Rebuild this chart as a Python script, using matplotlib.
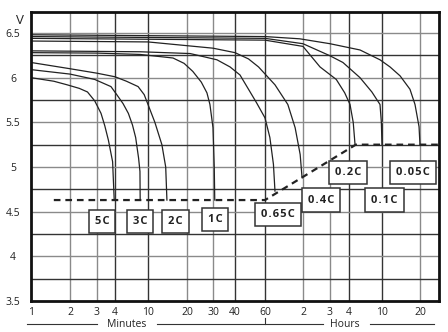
import numpy as np
import matplotlib.pyplot as plt
from matplotlib.lines import Line2D

plt.rcParams['font.family'] = ['Open Sans', 'DejaVu Sans']

# x axis of the sheet is a stretched log scale: ticks sit at fixed spacing
tick_min = [1, 2, 3, 4, 10, 20, 30, 40, 60, 120, 180, 240, 600, 1200]
tick_lab = ['1', '2', '3', '4', '10', '20', '30', '40', '60', '2', '3', '4', '10', '20']
anchor_t = tick_min + [1800]
anchor_p = [31, 70, 97, 115, 148, 187, 213, 235, 265, 303, 330, 349, 382, 420, 447]
log_t = np.log10(anchor_t)

def fwd(x):
    x = np.clip(np.asarray(x, dtype=float), 0.5, 1e5)
    return np.interp(np.log10(x), log_t, anchor_p)

def inv(p):
    return 10 ** np.interp(p, anchor_p, log_t)

# discharge curves, time in minutes, volts
t_5c = [1, 1.5, 1.9, 2.3, 2.6, 2.9, 3.2, 3.4, 3.6, 3.85, 3.95]
v_5c = [6.0, 5.96, 5.92, 5.88, 5.84, 5.74, 5.6, 5.46, 5.3, 5.06, 4.63]
t_3c = [1, 2, 2.9, 3.75, 4.2, 5.0, 5.8, 6.5, 7.1, 7.7, 8.0, 8.05]
v_3c = [6.09, 6.04, 5.98, 5.90, 5.81, 5.71, 5.6, 5.47, 5.33, 5.1, 4.95, 4.63]
t_2c = [1, 2, 3, 4, 5.5, 7.6, 9, 10, 11.3, 12.8, 13.7, 14.0]
v_2c = [6.17, 6.10, 6.05, 6.01, 5.96, 5.90, 5.81, 5.70, 5.5, 5.25, 5.0, 4.63]
t_1c = [1, 3, 8, 15.6, 19, 21.9, 25, 27.3, 28.6, 30, 30.5, 30.7]
v_1c = [6.28, 6.275, 6.26, 6.22, 6.16, 6.07, 5.95, 5.83, 5.70, 5.44, 5.0, 4.63]
t_065c = [1, 8, 21, 31.6, 37.5, 42.8, 53.5, 60, 65.6, 70, 72]
v_065c = [6.30, 6.29, 6.27, 6.2, 6.12, 6.03, 5.72, 5.55, 5.33, 5.03, 4.73]
t_04c = [1, 10, 30, 40, 48, 55, 72, 91, 104, 114, 118]
v_04c = [6.41, 6.40, 6.33, 6.28, 6.21, 6.12, 5.92, 5.70, 5.44, 5.14, 4.88]
t_02c = [1, 60, 120, 155, 198, 225, 247, 270, 284]
v_02c = [6.44, 6.42, 6.35, 6.12, 5.98, 5.83, 5.70, 5.5, 5.25]
t_01c = [1, 60, 120, 180, 219, 326, 453, 568, 590, 600]
v_01c = [6.46, 6.44, 6.38, 6.245, 6.17, 6.0, 5.84, 5.70, 5.5, 5.25]
t_005c = [1, 60, 113, 180, 326, 568, 695, 835, 1000, 1096, 1180, 1200]
v_005c = [6.48, 6.46, 6.435, 6.38, 6.31, 6.2, 6.12, 6.02, 5.87, 5.70, 5.45, 5.25]

curves = [(t_5c, v_5c), (t_3c, v_3c), (t_2c, v_2c), (t_1c, v_1c), (t_065c, v_065c),
          (t_04c, v_04c), (t_02c, v_02c), (t_01c, v_01c), (t_005c, v_005c)]

# end voltage line
cut_t = [1.5, 60, 290, 1600]
cut_v = [4.63, 4.63, 5.25, 5.25]

# rate labels: text, time, volts
lab_txt = ['5C', '3C', '2C', '1C', '0.65C', '0.4C', '0.2C', '0.1C', '0.05C']
lab_t = [3.25, 8.0, 16.3, 30.8, 76, 157, 236, 625, 1060]
lab_v = [4.39, 4.39, 4.39, 4.41, 4.47, 4.63, 4.94, 4.63, 4.94]

fig = plt.figure(figsize=(4.48, 3.32), dpi=100)
ax = fig.add_axes([31/448, 1 - 301/332, 408/448, 289/332])
ax.set_xscale('function', functions=(fwd, inv))
ax.set_xlim(1, 1597)
ax.set_ylim(3.5, 6.735)

# grid
grey_x = [2, 3, 20, 30, 120, 180, 1200]
for t in tick_min[1:]:
    ax.axvline(t, color='#8a8a8a' if t in grey_x else '#333333', lw=1.0, zorder=1)
for v in np.arange(3.75, 6.6, 0.25):
    col = '#8a8a8a' if abs(v * 2 - round(v * 2)) < 1e-6 else '#333333'
    ax.axhline(v, color=col, lw=1.0, zorder=1)

for t, v in curves:
    ax.plot(t, v, color='#222222', lw=0.9, zorder=3)

ax.plot(cut_t, cut_v, color='#222222', lw=1.6, ls=(0, (3, 2.2)), zorder=3)

sp = '\u200a'
for txt, t, v in zip(lab_txt, lab_t, lab_v):
    ax.text(t, v, sp.join(txt), ha='center', va='center', fontsize=8, fontweight='bold',
            color='#222222', zorder=5,
            bbox=dict(boxstyle='square,pad=0.55', fc='white', ec='#333333', lw=1.1))

ax.set_xticks(tick_min)
ax.set_xticklabels(tick_lab)
ax.set_yticks([3.5, 4, 4.5, 5, 5.5, 6, 6.5])
ax.set_yticklabels(['3.5', '4', '4.5', '5', '5.5', '6', '6.5'])
ax.tick_params(axis='x', length=0, pad=4, labelsize=7.5, colors='#222222')
ax.tick_params(axis='y', length=0, pad=13, labelsize=7.5, colors='#222222')
for lb in ax.get_yticklabels():
    lb.set_horizontalalignment('center')
ax.xaxis.set_minor_locator(plt.NullLocator())
for s in ax.spines.values():
    s.set_linewidth(2)
    s.set_color('#111111')
    s.set_zorder(6)

ax.text(-0.027, 0.972, 'V', transform=ax.transAxes, ha='center', va='center',
        fontsize=9.5, color='#222222')

# Minutes / Hours bracket under the axis
yb = -0.0796
tr = ax.transAxes
for x0, x1 in [(-0.01, 0.162), (0.309, 0.716), (0.831, 0.988)]:
    ax.add_line(Line2D([x0, x1], [yb, yb], transform=tr, color='#333333', lw=0.8, clip_on=False))
ax.add_line(Line2D([0.574, 0.574], [yb, yb + 0.02], transform=tr, color='#333333', lw=0.8, clip_on=False))
ax.text(0.235, yb, 'Minutes', transform=tr, ha='center', va='center', fontsize=7.5, color='#222222')
ax.text(0.77, yb, 'Hours', transform=tr, ha='center', va='center', fontsize=7.5, color='#222222')

fig.savefig('out.png', dpi=100)
